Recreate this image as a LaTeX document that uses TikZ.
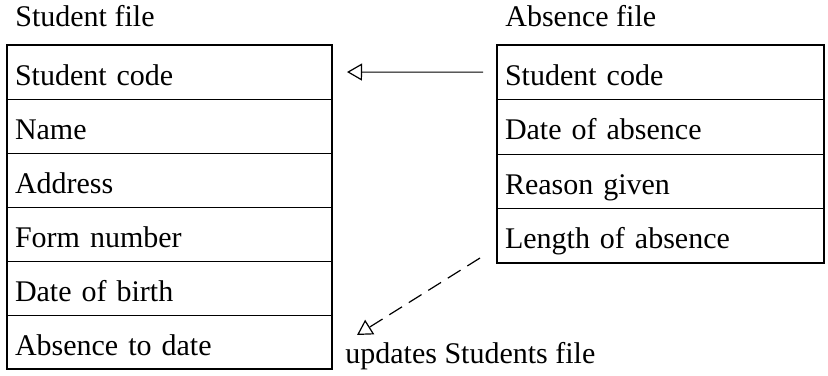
\documentclass[tikz,border=0pt]{standalone}
\usepackage{fontspec}
\setmainfont{Liberation Serif}
\usetikzlibrary{arrows.meta}
\begin{document}
\begin{tikzpicture}[x=0.5pt,y=-0.5pt,
  txt/.style={font=\fontsize{15}{17}\selectfont},
  rowL/.style={txt, draw, line width=0.5pt, anchor=north west, minimum width=162.5pt, minimum height=27pt,
    text width=154.5pt, inner xsep=4pt, inner ysep=0pt, outer sep=0pt, align=left, text height=13pt, text depth=0pt},
  rowR/.style={rowL, minimum width=163.5pt, text width=155.5pt, minimum height=27.25pt},
  frame/.style={draw, line width=1pt},
  title/.style={txt, anchor=base west, inner sep=0pt},
  opentip/.style={-{Triangle[open, length=7.5pt, width=8.5pt, line width=0.6pt]}}
]
\useasboundingbox (0,0) rectangle (828,375);
% Student file
\node[title] (tS) at (15,26) {Student file};
\node[rowL] (l1) at (7,45) {Student code};
\node[rowL] (l2) at (l1.south west) {Name};
\node[rowL] (l3) at (l2.south west) {Address};
\node[rowL] (l4) at (l3.south west) {Form number};
\node[rowL] (l5) at (l4.south west) {Date of birth};
\node[rowL] (l6) at (l5.south west) {Absence to date};
\draw[frame] (l1.north west) rectangle (l6.south east);
% Absence file
\node[title] (tA) at (505,26) {Absence file};
\node[rowR] (r1) at (497,45) {Student code};
\node[rowR] (r2) at (r1.south west) {Date of absence};
\node[rowR] (r3) at (r2.south west) {Reason given};
\node[rowR] (r4) at (r3.south west) {Length of absence};
\draw[frame] (r1.north west) rectangle (r4.south east);
% connectors
\draw[line width=0.5pt, opentip, shorten <=7pt, shorten >=7.5pt] (r1.west) -- (l1.east);
\node[title] (upd) at (345,363) {updates Students file};
\coordinate (tipU) at (357,335);
\draw[line width=0.6pt, dash pattern=on 7.5pt off 4pt, opentip]
  ([shift={(-17,-5)}]r4.south west) -- (tipU);
\end{tikzpicture}
\end{document}
